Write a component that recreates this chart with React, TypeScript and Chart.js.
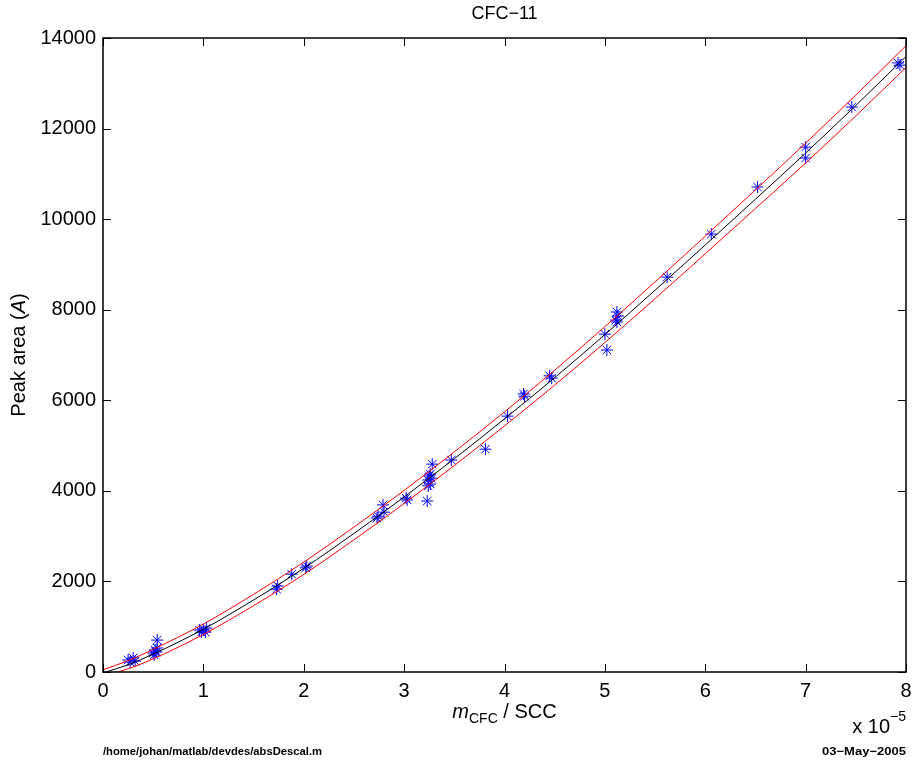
import React, { useEffect, useRef } from "react";
import { Chart, registerables } from "chart.js";

Chart.register(...registerables);

// Fitted calibration curve (x in units of 1e-5 m_CFC/SCC)
const fitX = [0, 0.25, 0.5, 1, 1.5, 2, 2.5, 3, 3.5, 4, 4.5, 5, 5.5, 6, 6.5, 7, 7.5, 8, 8.2];
const fitY = [-20, 160, 395, 945, 1590, 2290, 3060, 3865, 4710, 5590, 6500, 7450, 8430, 9430, 10440, 11460, 12510, 13590, 14020];
const upperY = [50, 250, 500, 1060, 1715, 2425, 3200, 4010, 4860, 5745, 6665, 7625, 8615, 9625, 10645, 11680, 12740, 13830, 14270];
const lowerY = [-90, 70, 290, 830, 1465, 2155, 2920, 3720, 4560, 5435, 6335, 7275, 8245, 9235, 10235, 11240, 12280, 13350, 13770];

// Measured points
const ptsX = [0.25, 0.30, 0.27, 0.32, 0.50, 0.52, 0.54, 0.53, 0.51, 0.54, 0.96, 1.00, 1.03, 0.98, 1.02, 1.73, 1.74, 1.88, 2.03, 2.02, 2.73, 2.74, 2.79, 2.80, 3.02, 3.03, 3.23, 3.24, 3.25, 3.26, 3.24, 3.27, 3.26, 3.28, 3.47, 3.81, 4.03, 4.19, 4.20, 4.45, 4.47, 5.00, 5.02, 5.12, 5.13, 5.12, 5.11, 5.62, 6.06, 6.52, 7.00, 7.00, 7.46, 7.92, 7.94];
const ptsY = [265, 310, 220, 240, 420, 485, 530, 440, 375, 705, 927, 930, 970, 880, 880, 1830, 1900, 2160, 2340, 2300, 3400, 3440, 3690, 3530, 3840, 3800, 3775, 4240, 4330, 4150, 4110, 4280, 4370, 4590, 4680, 4920, 5650, 6140, 6090, 6540, 6490, 7460, 7110, 7950, 7860, 7730, 7770, 8720, 9670, 10710, 11590, 11350, 12475, 13450, 13400];

const xTicks = [0, 1, 2, 3, 4, 5, 6, 7, 8];
const yTicks = [0, 2000, 4000, 6000, 8000, 10000, 12000, 14000];

const FONT = "'Liberation Sans', Arial, Helvetica, sans-serif";

const decorPlugin = {
  id: "decor",
  afterDraw(chart: any) {
    const ctx = chart.ctx as CanvasRenderingContext2D;
    const a = chart.chartArea;
    const xs = chart.scales.x;
    const ys = chart.scales.y;
    ctx.save();
    ctx.strokeStyle = "#000";
    ctx.lineWidth = 1.5;
    ctx.strokeRect(a.left, a.top, a.right - a.left, a.bottom - a.top);
    ctx.lineWidth = 1;
    const tl = 8;
    ctx.beginPath();
    xTicks.forEach((v) => {
      const px = Math.round(xs.getPixelForValue(v)) + 0.5;
      ctx.moveTo(px, a.bottom);
      ctx.lineTo(px, a.bottom - tl);
      ctx.moveTo(px, a.top);
      ctx.lineTo(px, a.top + tl);
    });
    yTicks.forEach((v) => {
      const py = Math.round(ys.getPixelForValue(v)) + 0.5;
      ctx.moveTo(a.left, py);
      ctx.lineTo(a.left + tl, py);
      ctx.moveTo(a.right, py);
      ctx.lineTo(a.right - tl, py);
    });
    ctx.stroke();

    ctx.fillStyle = "#000";
    // Title
    ctx.font = `18px ${FONT}`;
    ctx.textAlign = "center";
    ctx.textBaseline = "alphabetic";
    ctx.fillText("CFC\u221211", (a.left + a.right) / 2, 19);

    // Y label
    ctx.save();
    ctx.translate(25, (a.top + a.bottom) / 2);
    ctx.rotate(-Math.PI / 2);
    const p1 = "Peak area (";
    const p2 = "A";
    const p3 = ")";
    ctx.font = `20px ${FONT}`;
    const w1 = ctx.measureText(p1).width;
    const w3 = ctx.measureText(p3).width;
    ctx.font = `italic 20px ${FONT}`;
    const w2 = ctx.measureText(p2).width;
    const sx = -(w1 + w2 + w3) / 2;
    ctx.textAlign = "left";
    ctx.font = `20px ${FONT}`;
    ctx.fillText(p1, sx, 0);
    ctx.font = `italic 20px ${FONT}`;
    ctx.fillText(p2, sx + w1, 0);
    ctx.font = `20px ${FONT}`;
    ctx.fillText(p3, sx + w1 + w2, 0);
    ctx.restore();

    // X label: m_CFC / SCC
    {
      const base = 718;
      ctx.textAlign = "left";
      ctx.font = `italic 20px ${FONT}`;
      const wm = ctx.measureText("m").width;
      ctx.font = `14px ${FONT}`;
      const wc = ctx.measureText("CFC").width;
      ctx.font = `20px ${FONT}`;
      const ws = ctx.measureText(" / SCC").width;
      const x0 = (a.left + a.right) / 2 - (wm + wc + ws) / 2;
      ctx.font = `italic 20px ${FONT}`;
      ctx.fillText("m", x0, base);
      ctx.font = `14px ${FONT}`;
      ctx.fillText("CFC", x0 + wm, base + 5);
      ctx.font = `20px ${FONT}`;
      ctx.fillText(" / SCC", x0 + wm + wc, base);
    }

    // Exponent
    {
      ctx.textAlign = "left";
      ctx.font = `14px ${FONT}`;
      const we = ctx.measureText("\u22125").width;
      ctx.font = `20px ${FONT}`;
      const wx = ctx.measureText("x 10").width;
      const x0 = a.right - we - wx;
      ctx.fillText("x 10", x0, 733);
      ctx.font = `14px ${FONT}`;
      ctx.fillText("\u22125", x0 + wx, 721);
    }

    // Footer
    {
      ctx.font = `bold 11px ${FONT}`;
      const t1 = "/home/johan/matlab/devdes/absDescal.m";
      const t2 = "03\u2212May\u22122005";
      const m1 = ctx.measureText(t1).width;
      const m2 = ctx.measureText(t2).width;
      ctx.save();
      ctx.translate(a.left, 755);
      ctx.scale(219 / m1, 1);
      ctx.textAlign = "left";
      ctx.fillText(t1, 0, 0);
      ctx.restore();
      ctx.save();
      ctx.translate(a.right, 755);
      ctx.scale(84 / m2, 1);
      ctx.textAlign = "right";
      ctx.fillText(t2, 0, 0);
      ctx.restore();
    }
    ctx.restore();
  },
};

export default function App() {
  const ref = useRef<HTMLCanvasElement | null>(null);
  useEffect(() => {
    document.body.style.margin = "0";
    const canvas = ref.current!;
    const mk = (ys: number[]) => fitX.map((x, i) => ({ x, y: ys[i] }));
    const lineDs = (ys: number[], color: string) => ({
      type: "line",
      data: mk(ys),
      borderColor: color,
      borderWidth: 1,
      pointRadius: 0,
      cubicInterpolationMode: "monotone",
      fill: false,
    });
    const chart = new Chart(canvas, {
      type: "scatter",
      data: {
        datasets: [
          lineDs(upperY, "rgb(255,0,0)"),
          lineDs(lowerY, "rgb(255,0,0)"),
          lineDs(fitY, "#000"),
          {
            type: "scatter",
            data: ptsX.map((x, i) => ({ x, y: ptsY[i] })),
            pointStyle: "star",
            pointRadius: 6,
            borderColor: "rgb(0,0,255)",
            backgroundColor: "rgb(0,0,255)",
            borderWidth: 1,
          },
        ],
      },
      options: {
        responsive: false,
        animation: false,
        events: [],
        layout: { padding: { top: 38, right: 8, left: 0, bottom: 0 } },
        plugins: { legend: { display: false }, tooltip: { enabled: false }, title: { display: false } },
        scales: {
          x: {
            type: "linear",
            min: 0,
            max: 8,
            afterFit: (s: any) => {
              s.height = 90;
              s.paddingLeft = 0;
              s.paddingRight = 0;
            },
            afterBuildTicks: (s: any) => {
              s.ticks = xTicks.map((v) => ({ value: v }));
            },
            ticks: {
              font: { family: FONT, size: 20 },
              color: "#000",
              padding: 7,
              maxRotation: 0,
              autoSkip: false,
              callback: (v: any) => String(v),
            },
            grid: { display: false, drawTicks: false },
            border: { display: false },
          },
          y: {
            type: "linear",
            min: 0,
            max: 14000,
            afterFit: (s: any) => {
              s.width = 103;
              s.paddingTop = 0;
              s.paddingBottom = 0;
            },
            afterBuildTicks: (s: any) => {
              s.ticks = yTicks.map((v) => ({ value: v }));
            },
            ticks: {
              font: { family: FONT, size: 20 },
              color: "#000",
              padding: 7,
              autoSkip: false,
              callback: (v: any) => String(v),
            },
            grid: { display: false, drawTicks: false },
            border: { display: false },
          },
        },
      },
      plugins: [decorPlugin],
    } as any);
    return () => chart.destroy();
  }, []);
  return (
    <canvas ref={ref} width={914} height={762} style={{ display: "block", width: 914, height: 762 }} />
  );
}
